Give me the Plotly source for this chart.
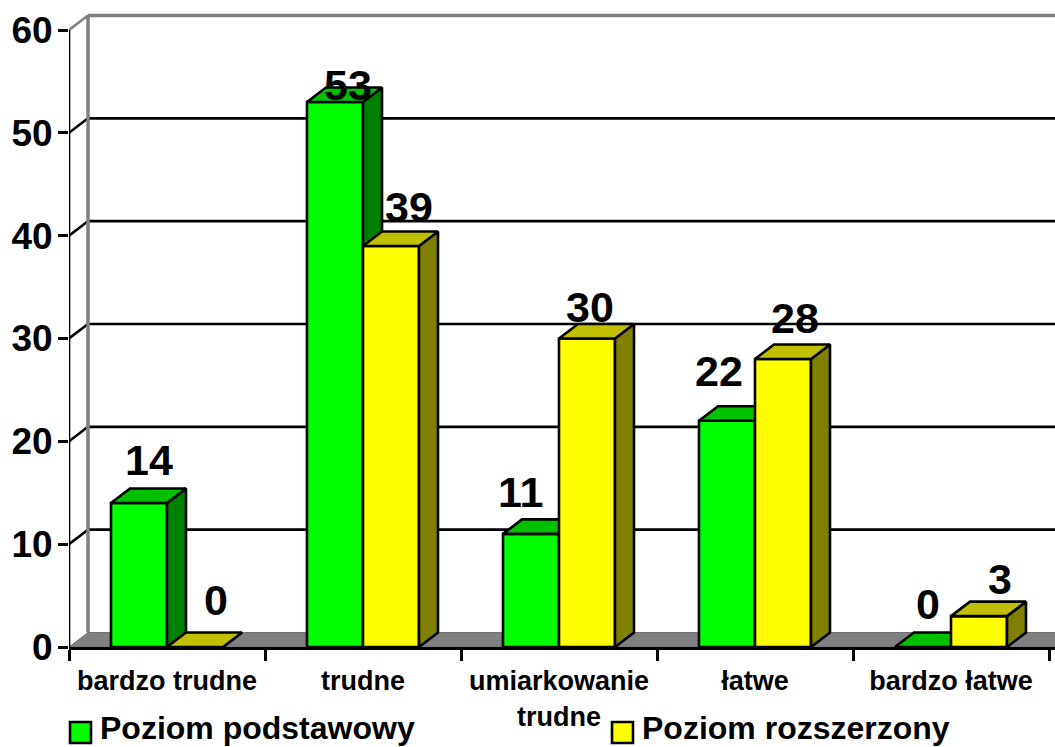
import plotly.graph_objects as go

# values
categories = ["bardzo trudne", "trudne", "umiarkowanie<br>trudne", "łatwe", "bardzo łatwe"]
podstawowy = [14, 53, 11, 22, 0]
rozszerzony = [0, 39, 30, 28, 3]
series_names = ["Poziom podstawowy", "Poziom rozszerzony"]
y_ticks = [0, 10, 20, 30, 40, 50, 60]

# label nudges in pixels, the labels were placed by hand in the original
dx_podst = [10, 13, -11, -8, 5]
dy_podst = [43, 17, 42, 50, 43]
dx_rozsz = [21, 18, 3, 12, 21]
dy_rozsz = [47, 39, 32, 41, 37]

FONT = "Liberation Sans"
W, H = 1055, 747
LEFT, BOTTOM_Y, TOP_Y = 69, 647, 10
CAT_PX = 196
UNIT_PX = 617 / 60
DEPTH_X = 19 / CAT_PX
DEPTH_Y = 14.5 / UNIT_PX
BAR_W = 56 / CAT_PX
X_MAX = (W - LEFT) / CAT_PX
Y_MAX = (BOTTOM_Y - TOP_Y) / UNIT_PX
LW = 2.6


def paper_x(px):
    return (px - LEFT) / (W - LEFT)


def paper_y(py):
    return (BOTTOM_Y - py) / (BOTTOM_Y - TOP_Y)


def faces(centers, values):
    # side and top polygons of the 3d look, as one path each with gaps
    side_x, side_y, top_x, top_y = [], [], [], []
    for c, v in zip(centers, values):
        x0, x1 = c - BAR_W / 2, c + BAR_W / 2
        side_x += [x1, x1 + DEPTH_X, x1 + DEPTH_X, x1, x1, None]
        side_y += [0, DEPTH_Y, v + DEPTH_Y, v, 0, None]
        top_x += [x0, x0 + DEPTH_X, x1 + DEPTH_X, x1, x0, None]
        top_y += [v, v + DEPTH_Y, v + DEPTH_Y, v, v, None]
    return side_x, side_y, top_x, top_y


def poly(x, y, color, xa, ya):
    return go.Scatter(x=x, y=y, mode="lines", fill="toself", fillcolor=color,
                      line=dict(color="black", width=LW), xaxis=xa, yaxis=ya,
                      hoverinfo="skip", showlegend=False)


centers = [i + 0.5 for i in range(len(categories))]
c_podst = [c - BAR_W / 2 for c in centers]
c_rozsz = [c + BAR_W / 2 for c in centers]

fig = go.Figure()

# green series on the base axes
s_x, s_y, t_x, t_y = faces(c_podst, podstawowy)
fig.add_trace(go.Bar(x=c_podst, y=podstawowy, width=BAR_W, name=series_names[0],
                     marker=dict(color="#00FF00", line=dict(color="black", width=LW)),
                     xaxis="x", yaxis="y", showlegend=False))
fig.add_trace(poly(s_x, s_y, "#008000", "x", "y"))
fig.add_trace(poly(t_x, t_y, "#00C000", "x", "y"))

# yellow series on overlaying axes so it sits over the green side faces
s_x, s_y, t_x, t_y = faces(c_rozsz, rozszerzony)
fig.add_trace(go.Bar(x=c_rozsz, y=rozszerzony, width=BAR_W, name=series_names[1],
                     marker=dict(color="#FFFF00", line=dict(color="black", width=LW)),
                     xaxis="x2", yaxis="y2", showlegend=False))
fig.add_trace(poly(s_x, s_y, "#808000", "x2", "y2"))
fig.add_trace(poly(t_x, t_y, "#C0C000", "x2", "y2"))

# walls, floor and grid behind the bars
shapes = [dict(type="path", layer="below", xref="x", yref="y",
               path=f"M0,0 L{DEPTH_X},{DEPTH_Y} L{X_MAX + DEPTH_X},{DEPTH_Y} L{X_MAX},0 Z",
               fillcolor="#808080", line=dict(color="#707070", width=1))]
for t in y_ticks[1:]:
    color = "#808080" if t == y_ticks[-1] else "black"
    width = 3.5 if t == y_ticks[-1] else LW
    shapes.append(dict(type="line", layer="below", xref="x", yref="y",
                       x0=DEPTH_X, x1=X_MAX, y0=t + DEPTH_Y, y1=t + DEPTH_Y,
                       line=dict(color=color, width=width)))
    shapes.append(dict(type="line", layer="below", xref="x", yref="y",
                       x0=0, x1=DEPTH_X, y0=t, y1=t + DEPTH_Y,
                       line=dict(color=color, width=LW)))
shapes.append(dict(type="line", layer="below", xref="x", yref="y",
                   x0=DEPTH_X, x1=DEPTH_X, y0=DEPTH_Y, y1=y_ticks[-1] + DEPTH_Y,
                   line=dict(color="#808080", width=3.5)))
shapes.append(dict(type="line", layer="below", xref="x", yref="y",
                   x0=0, x1=0, y0=0, y1=y_ticks[-1],
                   line=dict(color="black", width=LW)))

# hand made legend, swatches are bigger than plotly's own
for px, color in [(69, "#00FF00"), (611, "#FFFF00")]:
    shapes.append(dict(type="rect", xref="paper", yref="paper",
                       x0=paper_x(px + 1), x1=paper_x(px + 22),
                       y0=paper_y(743), y1=paper_y(722),
                       fillcolor=color, line=dict(color="black", width=LW)))

annotations = []
for name, px in zip(series_names, [98, 640]):
    annotations.append(dict(text=f"<b>{name}</b>", xref="paper", yref="paper",
                            x=paper_x(px), y=paper_y(728), xanchor="left", yanchor="middle",
                            showarrow=False, font=dict(family=FONT, size=32, color="black")))

for cs, vals, dxs, dys in [(c_podst, podstawowy, dx_podst, dy_podst),
                           (c_rozsz, rozszerzony, dx_rozsz, dy_rozsz)]:
    for c, v, dx, dy in zip(cs, vals, dxs, dys):
        annotations.append(dict(text=f"<b>{v}</b>", xref="x2", yref="y2", x=c, y=v,
                                xshift=dx, yshift=dy, xanchor="center", yanchor="middle",
                                showarrow=False, font=dict(family=FONT, size=43, color="black")))

fig.update_layout(
    width=W, height=H,
    margin=dict(l=LEFT, r=0, t=TOP_Y, b=H - BOTTOM_Y, pad=0),
    paper_bgcolor="white", plot_bgcolor="rgba(0,0,0,0)",
    showlegend=False, shapes=shapes, annotations=annotations,
    xaxis=dict(range=[0, X_MAX], tickmode="array", tickvals=list(range(len(categories) + 1)),
               ticktext=[""] * (len(categories) + 1), ticks="outside", ticklen=11, tickwidth=LW,
               tickcolor="black", showline=True, linecolor="black", linewidth=LW,
               showgrid=False, zeroline=False),
    yaxis=dict(range=[0, Y_MAX], tickmode="array", tickvals=y_ticks,
               ticktext=[f"<b>{t}</b>" for t in y_ticks], ticks="outside", ticklen=10, tickwidth=LW,
               tickcolor="black", showline=False, showgrid=False, zeroline=False,
               ticklabelstandoff=-2, tickfont=dict(family=FONT, size=37, color="black")),
    xaxis2=dict(range=[0, X_MAX], overlaying="x", anchor="y2", tickmode="array", tickvals=centers,
                ticktext=[f"<b>{c}</b>" for c in categories],
                ticks="outside", ticklen=10, tickcolor="rgba(0,0,0,0)", showgrid=False, zeroline=False,
                tickfont=dict(family=FONT, size=27, color="black"), tickangle=0),
    yaxis2=dict(range=[0, Y_MAX], overlaying="y", anchor="x2", showticklabels=False, ticks="",
                showgrid=False, zeroline=False),
)

fig.write_html("out.html", config=dict(displayModeBar=False),
               post_script="document.body.style.margin='0';document.body.style.overflow='hidden';")
